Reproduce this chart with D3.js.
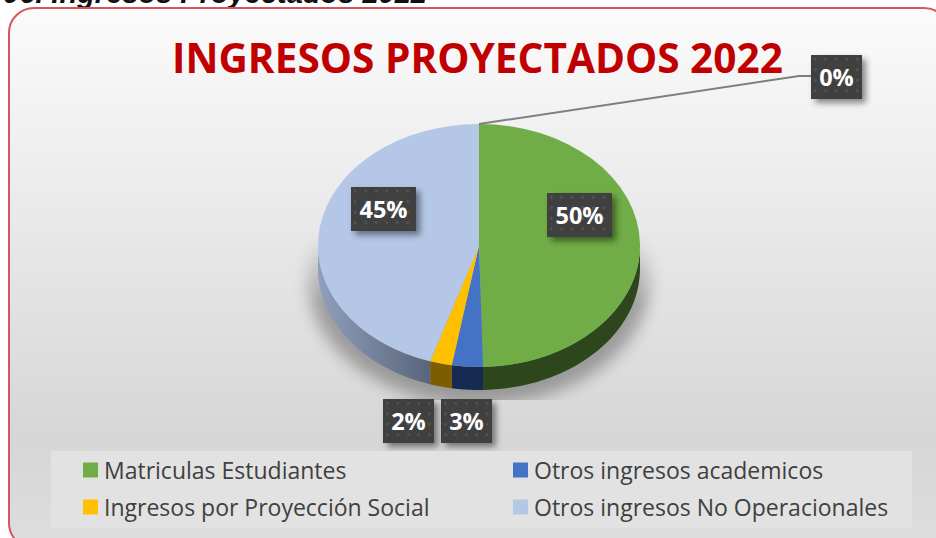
<!DOCTYPE html>
<html>
<head>
<meta charset="utf-8">
<script src="https://cdn.jsdelivr.net/npm/d3@7"></script>
<style>
html, body { margin: 0; padding: 0; background: white; overflow: hidden; }
text { font-family: "Open Sans", "Noto Sans", sans-serif; }
</style>
</head>
<body>
<div id="vis"></div>
<script>
// values
const categories = ['Matriculas Estudiantes', 'Otros ingresos academicos', 'Ingresos por Proyección Social', 'Otros ingresos No Operacionales'];
const values = [49.6, 3.1, 2.2, 45.1];
const labels = ['50%', '3%', '2%', '45%'];
const colors = ['#70ad47', '#4472c4', '#ffc000', '#b4c7e7'];
const sideColors = ['#2d461c', '#172b52', '#7c5e00', 'url(#sideBlue)'];
const title = 'INGRESOS PROYECTADOS 2022';
const heading = '06. Ingresos Proyectados 2022';
const zeroLabel = '0%';

const width = 936, height = 538;
const cx = 479, cy = 245.5, rx = 161, ry = 121.5, depth = 23;

let svg = d3.select('#vis')
.append('svg')
.attr('width', width)
.attr('height', height)
.style('display', 'block');

let defs = svg.append('defs');

let bg = defs.append('linearGradient').attr('id', 'bg').attr('x1', 0).attr('x2', 0).attr('y1', 0).attr('y2', 1);
bg.append('stop').attr('offset', '0%').attr('stop-color', '#fbfbfb');
bg.append('stop').attr('offset', '80%').attr('stop-color', '#d6d6d6');
bg.append('stop').attr('offset', '100%').attr('stop-color', '#dedede');

let side = defs.append('linearGradient').attr('id', 'sideBlue').attr('gradientUnits', 'userSpaceOnUse')
.attr('x1', cx - rx).attr('x2', cx - 30).attr('y1', 0).attr('y2', 0);
side.append('stop').attr('offset', '0%').attr('stop-color', '#909fbb');
side.append('stop').attr('offset', '100%').attr('stop-color', '#505b70');

defs.append('filter').attr('id', 'blur').attr('x', '-20%').attr('y', '-20%').attr('width', '140%').attr('height', '140%')
.append('feGaussianBlur').attr('stdDeviation', 8);

let labelShadow = defs.append('filter').attr('id', 'labelShadow').attr('x', '-30%').attr('y', '-30%').attr('width', '170%').attr('height', '170%');
labelShadow.append('feDropShadow').attr('dx', 4).attr('dy', 4).attr('stdDeviation', 3)
.attr('flood-color', '#000').attr('flood-opacity', 0.45);

// dotted texture of the data labels
let dots = defs.append('pattern').attr('id', 'dots').attr('patternUnits', 'userSpaceOnUse').attr('width', 10.5).attr('height', 10.5);
dots.append('rect').attr('width', 10.5).attr('height', 10.5).attr('fill', '#3f3f3f');
dots.append('rect').attr('x', 3).attr('y', 3).attr('width', 2.5).attr('height', 2.5).attr('fill', '#565656');

// shadow fades out going up and stops hard at the bottom
let shadowFade = defs.append('linearGradient').attr('id', 'shadowFade').attr('gradientUnits', 'userSpaceOnUse')
.attr('x1', 0).attr('x2', 0).attr('y1', 232).attr('y2', 305);
shadowFade.append('stop').attr('offset', '0%').attr('stop-color', 'black');
shadowFade.append('stop').attr('offset', '100%').attr('stop-color', 'white');

defs.append('mask').attr('id', 'shadowMask').attr('maskUnits', 'userSpaceOnUse')
.attr('x', 0).attr('y', 0).attr('width', width).attr('height', height)
.append('rect')
.attr('x', 0).attr('y', 232).attr('width', width).attr('height', 168)
.attr('fill', 'url(#shadowFade)');

// heading cut off by the top of the picture, as in the source
svg.append('text')
.attr('x', 3).attr('y', 2.5)
.attr('font-size', 29).attr('font-weight', 700).attr('font-style', 'italic')
.style('font-family', 'Liberation Sans, Arial, sans-serif')
.attr('fill', '#111')
.text(heading);

// chart card
svg.append('rect')
.attr('x', 9).attr('y', 8)
.attr('width', 940).attr('height', 540)
.attr('rx', 25)
.attr('fill', 'url(#bg)')
.attr('stroke', '#d6575b')
.attr('stroke-width', 2);

svg.append('text')
.attr('x', 477.5).attr('y', 73)
.attr('text-anchor', 'middle')
.attr('font-size', 40.6).attr('font-weight', 700)
.attr('fill', '#c00000')
.text(title);

// shadow under the pie
svg.append('g').attr('mask', 'url(#shadowMask)')
.append('ellipse')
.attr('cx', cx).attr('cy', cy + 34)
.attr('rx', rx + 10).attr('ry', ry + 4)
.attr('fill', '#000').attr('opacity', 0.3)
.attr('filter', 'url(#blur)');

let pie = d3.pie().sort(null).value(d => d);
let slices = pie(values);

// the top face is a circle squashed vertically
let arc = d3.arc().innerRadius(0).outerRadius(rx);

// front wall of a slice, only the part facing the viewer
function wallPath(d) {
  let a0 = Math.max(d.startAngle, Math.PI / 2);
  let a1 = Math.min(d.endAngle, Math.PI * 3 / 2);
  if (a1 <= a0) return null;
  let n = 40;
  let ang = d3.range(n + 1).map(i => a0 + (a1 - a0) * i / n);
  let top = ang.map(a => [cx + rx * Math.sin(a), cy - ry * Math.cos(a)]);
  let bottom = ang.slice().reverse().map(a => [cx + rx * Math.sin(a), cy - ry * Math.cos(a) + depth]);
  return d3.line()(top.concat(bottom)) + 'Z';
}

svg.append('g').selectAll('path')
.data(slices)
.join('path')
.attr('d', wallPath)
.attr('fill', (d, i) => sideColors[i]);

svg.append('g')
.attr('transform', `translate(${cx},${cy}) scale(1,${ry / rx})`)
.selectAll('path')
.data(slices)
.join('path')
.attr('d', arc)
.attr('fill', (d, i) => colors[i]);

// leader line of the 0% label
svg.append('polyline')
.attr('points', [[479, 124], [799, 76], [811, 76]].join(' '))
.attr('fill', 'none')
.attr('stroke', '#7f7f7f')
.attr('stroke-width', 2);

// data labels, same order as the values, then the 0% one
const labelBoxes = [
  { text: labels[0], x: 547, y: 193, w: 65, h: 44 },
  { text: labels[1], x: 441, y: 399, w: 51, h: 44 },
  { text: labels[2], x: 383, y: 399, w: 51, h: 44 },
  { text: labels[3], x: 351, y: 187, w: 65, h: 44 },
  { text: zeroLabel, x: 811, y: 55, w: 51, h: 44 }
];

let lab = svg.append('g').selectAll('g')
.data(labelBoxes)
.join('g')
.attr('transform', d => `translate(${d.x},${d.y})`);

lab.append('rect')
.attr('width', d => d.w).attr('height', d => d.h)
.attr('fill', 'url(#dots)')
.attr('filter', 'url(#labelShadow)');

lab.append('text')
.attr('x', d => d.w / 2).attr('y', d => d.h / 2 + 8.5)
.attr('text-anchor', 'middle')
.attr('font-size', 23.5).attr('font-weight', 700)
.attr('fill', 'white')
.text(d => d.text);

// legend
svg.append('rect')
.attr('x', 51).attr('y', 451)
.attr('width', 861).attr('height', 77)
.attr('fill', '#e2e2e2');

let col = d3.scaleOrdinal().domain([0, 1]).range([83, 513]);
let row = d3.scaleOrdinal().domain([0, 1]).range([470, 507]);

let leg = svg.append('g').selectAll('g')
.data(categories)
.join('g')
.attr('transform', (d, i) => `translate(${col(i % 2)},${row(Math.floor(i / 2))})`);

leg.append('rect')
.attr('y', -7.5)
.attr('width', 15).attr('height', 15)
.attr('fill', (d, i) => colors[i]);

leg.append('text')
.attr('x', 21).attr('y', 8.5)
.attr('font-size', 23)
.attr('fill', '#404040')
.text(d => d);
</script>
</body>
</html>
